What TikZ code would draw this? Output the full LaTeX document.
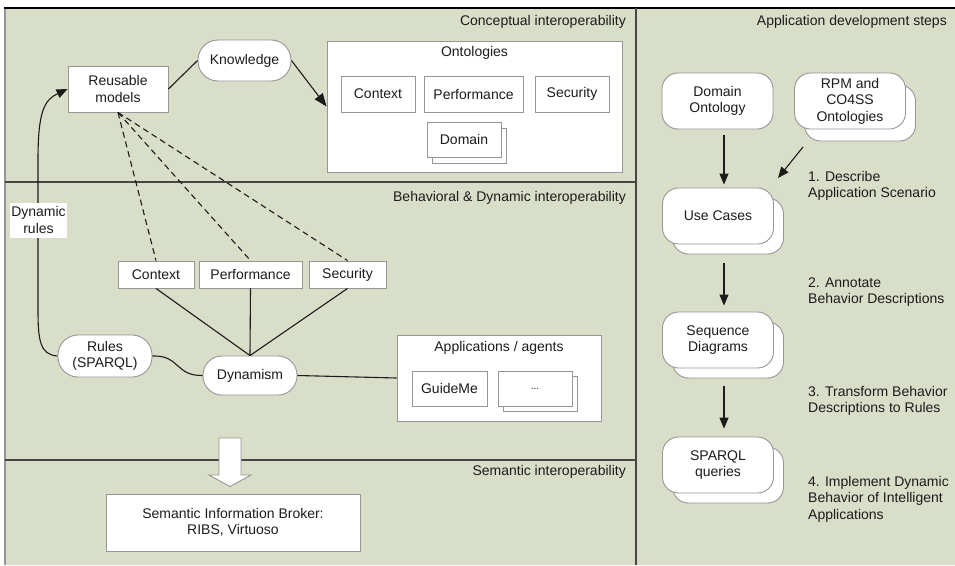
\documentclass[tikz,border=0pt]{standalone}
\usepackage{fontspec}
\setmainfont{Liberation Sans}
\usetikzlibrary{arrows.meta}

\definecolor{panelbg}{RGB}{216,222,200}
\definecolor{edgegray}{RGB}{150,150,150}
\definecolor{inkc}{RGB}{28,28,28}
\definecolor{rulegray}{RGB}{70,70,70}

\begin{document}
\begin{tikzpicture}[x=1pt,y=-1pt,
  font=\fontsize{14}{16.5}\selectfont,
  box/.style={draw=edgegray, fill=white, line width=0.9pt, inner sep=0pt,
              align=center, text=inkc},
  pill/.style={box, rounded corners=19pt},
  stepbox/.style={box, rounded corners=16pt, minimum width=111pt, minimum height=56pt},
  title/.style={text=inkc, inner sep=0pt},
  link/.style={draw=inkc, line width=1.1pt},
  tip/.style={-{Triangle[length=11pt,width=9pt]}},
  dashlink/.style={link, dash pattern=on 6pt off 4pt},
  divider/.style={draw=rulegray, line width=1.5pt}
]
\useasboundingbox (0,0) rectangle (955,565);

% panels
\fill[panelbg] (5,8) rectangle (955,565);
\draw[edgegray, line width=1.6pt] (5,8) -- (5,565);
\draw[black, line width=2pt] (4,8) -- (955,8);
\draw[rulegray, line width=1.4pt] (636,8) -- (636,565);
\draw[divider] (5,182) -- (636,182);
\draw[divider] (5,460) -- (636,460);

% section titles
\node[title, anchor=east] at (626,22) {Conceptual interoperability};
\node[title, anchor=east] at (626,198) {Behavioral \& Dynamic interoperability};
\node[title, anchor=east] at (626,472) {Semantic interoperability};
\node[title, anchor=east] at (947,22) {Application development steps};

% ---------- conceptual interoperability ----------
\node[box, minimum width=100pt, minimum height=46pt] (reuse) at (118,89) {Reusable\\models};
\node[pill, minimum width=93pt, minimum height=41pt, rounded corners=20pt] (know) at (244.5,60.5) {Knowledge};

\node[box, minimum width=295pt, minimum height=131pt] (onto) at (474.5,106.5) {};
\node[title] (ontot) at (474.5,53) {Ontologies};
\node[box, minimum width=74pt, minimum height=36pt] (ctxA) at (378,94) {Context};
\node[box, minimum width=99pt, minimum height=36pt] (perfA) at (473.5,94) {Performance};
\node[box, minimum width=74pt, minimum height=36pt] (secA) at (572,94) {Security};
\node[box, minimum width=74pt, minimum height=35pt] (domB) at (469,145.5) {};
\node[box, minimum width=74pt, minimum height=35pt] (dom) at (464,139.5) {Domain};

\draw[link] (reuse.east) -- (know.west);
\draw[link, -{Triangle[length=13pt,width=10pt]}] (know.east) -- (onto.west);

% ---------- behavioral & dynamic interoperability ----------
\node[box, minimum width=76pt, minimum height=27pt] (ctxB) at (156,274.5) {Context};
\node[box, minimum width=103pt, minimum height=27pt] (perfB) at (250.5,274.5) {Performance};
\node[box, minimum width=77pt, minimum height=27pt] (secB) at (347.5,274.5) {Security};

\node[pill, minimum width=94pt, minimum height=39pt] (dyn) at (250,375.5) {Dynamism};
\node[pill, minimum width=94pt, minimum height=42pt, rounded corners=20pt] (rules) at (105,356) {Rules\\(SPARQL)};

\node[box, minimum width=204pt, minimum height=86pt] (apps) at (499,378) {};
\node[title] (appst) at (499,348) {Applications / agents};
\node[box, minimum width=75pt, minimum height=35pt] (guide) at (449.5,388.5) {GuideMe};
\node[box, minimum width=74pt, minimum height=35pt] (moreB) at (540,393.5) {};
\node[box, minimum width=74pt, minimum height=35pt] (more) at (535,388.5) {\fontsize{10}{12}\selectfont ...};

\draw[dashlink] (reuse.south) -- (ctxB.north);
\draw[dashlink] (reuse.south) -- (perfB.north);
\draw[dashlink] (reuse.south) -- (secB.north);

\draw[link] (ctxB.south) -- (dyn.north);
\draw[link] (perfB.south) -- (dyn.north);
\draw[link] (secB.south) -- (dyn.north);

\draw[link] (rules.east) .. controls (180,355) and (175,376) .. (dyn.west);
\draw[link] (dyn.east) -- (apps.west);

% dynamic rules feedback
\draw[link, tip] (rules.west) .. controls (40,355) and (38,340) .. (38,310)
  -- (38,160) .. controls (38,112) and (44,100) .. (reuse.west);
\node[fill=white, inner sep=0pt, minimum width=57pt, minimum height=35pt,
      align=center, text=inkc] (dynlbl) at (38.5,220) {Dynamic\\rules};

% ---------- semantic interoperability ----------
\draw[draw=edgegray, fill=white, line width=0.9pt]
  (219,438) -- (241,438) -- (241,475) -- (251,475) -- (230,486.5)
  -- (209,475) -- (219,475) -- cycle;
\node[box, minimum width=254pt, minimum height=57pt] (sib) at (233,522.5)
  {Semantic Information Broker:\\RIBS, Virtuoso};

% ---------- application development steps ----------
\node[stepbox] (domont) at (717.5,101) {Domain\\Ontology};
\node[stepbox] (rpmB) at (860,113) {};
\node[stepbox] (rpm) at (850,101) {RPM and\\CO4SS\\Ontologies};
\node[stepbox] (ucB) at (728,226) {};
\node[stepbox] (uc) at (718,216) {Use Cases};
\node[stepbox] (seqB) at (728,350) {};
\node[stepbox] (seq) at (718,340) {Sequence\\Diagrams};
\node[stepbox] (sparqlB) at (728,475) {};
\node[stepbox] (sparql) at (718,465) {SPARQL\\queries};

\draw[link, tip] ([shift={(6.5,6)}]domont.south) -- ([shift={(6,-3)}]uc.north);
\coordinate (rpmfoot) at (803,147);
\coordinate (ucside) at (778,178);
\draw[link, tip] (rpmfoot) -- (ucside);
\draw[link, tip] ([shift={(-4,9)}]ucB.south) -- ([shift={(6,-6)}]seq.north);
\draw[link, tip] ([shift={(-4,8)}]seqB.south) -- ([shift={(6,-8)}]sparql.north);

\node[title, anchor=west, align=left] (s1) at (808,186) {1. Describe\\Application Scenario};
\node[title, anchor=west, align=left] (s2) at (808,292) {2. Annotate\\Behavior Descriptions};
\node[title, anchor=west, align=left] (s3) at (808,401) {3. Transform Behavior\\Descriptions to Rules};
\node[title, anchor=west, align=left] (s4) at (808,499) {4. Implement Dynamic\\Behavior of Intelligent\\Applications};
\end{tikzpicture}
\end{document}
